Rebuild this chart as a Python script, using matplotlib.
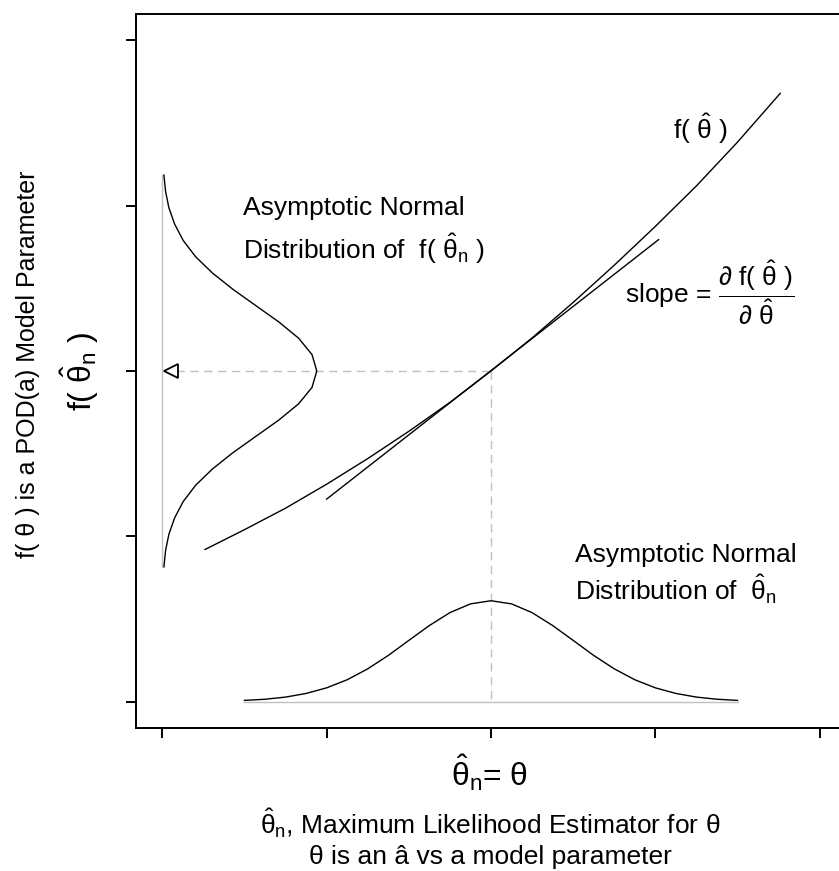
import numpy as np
import matplotlib
matplotlib.use('Agg')
import matplotlib.pyplot as plt

plt.rcParams['font.family'       ] = ['Liberation Sans', 'DejaVu Sans']
plt.rcParams['font.size'         ] = 19
plt.rcParams['mathtext.fontset'  ] = 'custom'
plt.rcParams['mathtext.rm'       ] = 'Liberation Sans'
plt.rcParams['mathtext.it'       ] = 'Liberation Sans'
plt.rcParams['mathtext.sf'       ] = 'Liberation Sans'
plt.rcParams['mathtext.bf'       ] = 'Liberation Sans:bold'
plt.rcParams['xtick.direction'   ] = 'out'
plt.rcParams['ytick.direction'   ] = 'out'
plt.rcParams['xtick.major.size'  ] = 7.2
plt.rcParams['ytick.major.size'  ] = 7.2
plt.rcParams['xtick.major.width' ] = 1.4
plt.rcParams['ytick.major.width' ] = 1.4
plt.rcParams['axes.linewidth'    ] = 1.4

# curve f(theta) and its tangent at theta_n
f_x = [0.26, 0.5, 0.75, 1.0, 1.25, 1.5, 1.75, 2.0, 2.25, 2.5, 2.75, 3.0, 3.25, 3.5, 3.76]
f_y = [0.92, 1.04, 1.17, 1.315, 1.47, 1.635, 1.81, 2.0, 2.2, 2.415, 2.64, 2.875, 3.12, 3.385, 3.68]
tan_x = [1.0, 3.02]
tan_y = [1.225, 2.795]

# asymptotic normal of theta_n (bottom)
bot_x = [0.5, 0.625, 0.75, 0.875, 1.0, 1.125, 1.25, 1.375, 1.5, 1.625, 1.75, 1.875, 2.0,
         2.125, 2.25, 2.375, 2.5, 2.625, 2.75, 2.875, 3.0, 3.125, 3.25, 3.375, 3.5]
bot_y = [0.007, 0.014, 0.027, 0.049, 0.083, 0.132, 0.198, 0.279, 0.37, 0.46, 0.538, 0.591, 0.61,
         0.591, 0.538, 0.46, 0.37, 0.279, 0.198, 0.132, 0.083, 0.049, 0.027, 0.014, 0.007]

# asymptotic normal of f(theta_n) (left, sideways)
left_y = [0.815, 0.914, 1.012, 1.111, 1.21, 1.309, 1.407, 1.506, 1.605, 1.704, 1.802, 1.901, 2.0,
          2.099, 2.198, 2.296, 2.395, 2.494, 2.593, 2.691, 2.79, 2.889, 2.988, 3.086, 3.185]
left_x = [0.01, 0.02, 0.04, 0.075, 0.127, 0.203, 0.305, 0.43, 0.57, 0.71, 0.83, 0.911, 0.94,
          0.911, 0.83, 0.71, 0.57, 0.43, 0.305, 0.203, 0.127, 0.075, 0.04, 0.02, 0.01]

theta_n = 2.0
f_theta_n = 2.0
arrow_x = [0.05]
arrow_y = [2.0]

ticks = [0, 1, 2, 3, 4]

fig = plt.figure(figsize=(8.39, 8.71), dpi=100)
ax = fig.add_axes([136/839, 1 - 728/871, 710/839, 714/871])

gray = '#c0c0c0'
lw = 1.0

# baselines of the two densities
ax.plot([0, 0], [left_y[0], left_y[-1]], color=gray, lw=lw)
ax.plot([bot_x[0], bot_x[-1]], [0, 0], color=gray, lw=lw)

# dashed guides
ax.plot([0, theta_n], [f_theta_n, f_theta_n], color=gray, lw=lw, dashes=(6, 4))
ax.plot([theta_n, theta_n], [f_theta_n, 0], color=gray, lw=lw, dashes=(6, 4))

ax.plot(left_x, left_y, color='k', lw=lw)
ax.plot(bot_x, bot_y, color='k', lw=lw)
ax.plot(f_x, f_y, color='k', lw=lw)
ax.plot(tan_x, tan_y, color='k', lw=lw)
ax.plot(arrow_x, arrow_y, marker='<', ms=10, mfc='white', mec='k', mew=1.3, ls='none')

ax.set_xlim(-0.16, 4.16)
ax.set_ylim(-0.16, 4.16)
ax.set_xticks(ticks)
ax.set_yticks(ticks)
ax.set_xticklabels([])
ax.set_yticklabels([])

# annotations
ax.text(0.49, 2.944, 'Asymptotic Normal', ha='left', va='baseline')
ax.text(0.49, 2.68, r'Distribution of  f( $\hat{\theta}_{n}$ )', ha='left', va='baseline')
ax.text(2.51, 0.844, 'Asymptotic Normal', ha='left', va='baseline')
ax.text(2.51, 0.615, r'Distribution of  $\hat{\theta}_{n}$', ha='left', va='baseline')
ax.text(3.107, 3.404, r'f( $\hat{\theta}$ )', ha='left', va='baseline')
ax.text(2.815, 2.472, r'slope = $\dfrac{\partial\ f(\ \hat{\theta}\ )}{\partial\ \hat{\theta}}$',
        ha='left', va='center')

# axis labels
fig.text(490/839, 1 - 786/871, r'$\hat{\theta}_{n}$= $\theta$', ha='center', va='baseline', fontsize=23)
fig.text(490/839, 1 - 834/871, r'$\hat{\theta}_{n}$, Maximum Likelihood Estimator for $\theta$',
         ha='center', va='baseline')
fig.text(490/839, 1 - 864/871, 'θ is an â vs a model parameter', ha='center', va='baseline')
fig.text(28/839, 1 - 364/871, 'f( θ ) is a POD(a) Model Parameter', rotation=90,
         ha='center', va='center', fontsize=18)
fig.text(80/839, 1 - 371/871, r'f( $\hat{\theta}_{n}$ )', rotation=90,
         ha='center', va='center', fontsize=23)

plt.savefig('out.png', dpi=100)
